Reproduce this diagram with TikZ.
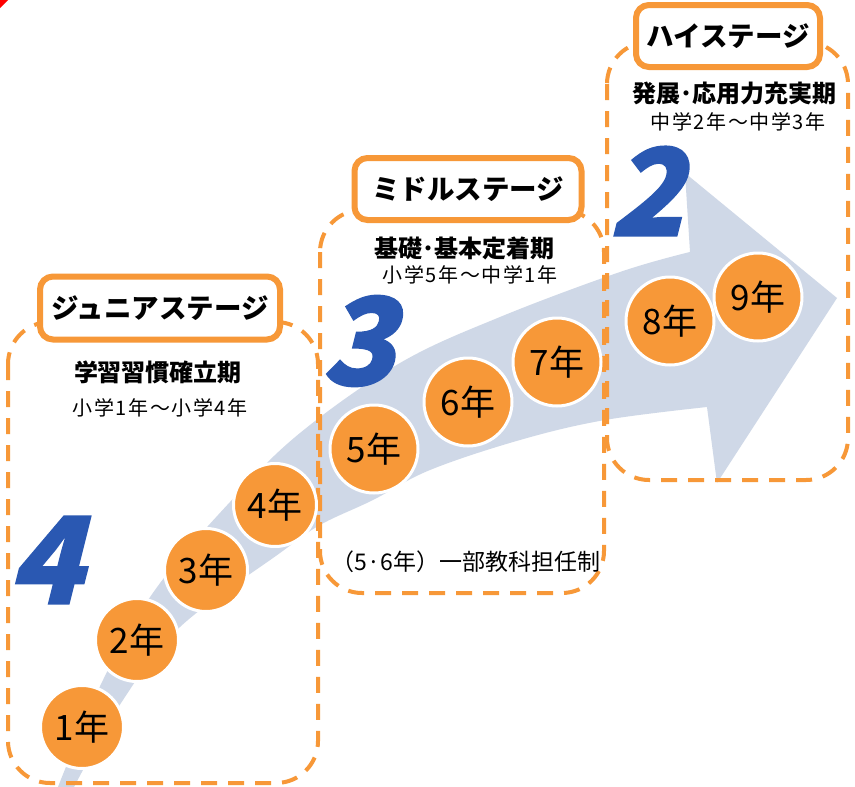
\documentclass[tikz,border=0pt]{standalone}
\usepackage{fontspec}
\setmainfont{Noto Sans CJK JP}
\newfontfamily\digitfont{Noto Sans CJK JP}[FakeSlant=0.25,FakeBold=1.3]
\definecolor{orng}{HTML}{F79838}
\definecolor{bandc}{HTML}{CFD8E7}
\definecolor{mblue}{HTML}{2A58B2}
\newcommand{\bigdigitfont}{\digitfont\bfseries\fontsize{121}{121}\selectfont}

\begin{document}
\begin{tikzpicture}[x=1pt,y=-1pt,
  dashbox/.style={draw=orng, line width=4pt, dash pattern=on 16pt off 11pt, rounded corners=42pt},
  stagebox/.style={draw=orng, fill=white, line width=6pt, rounded corners=13pt, inner sep=0pt,
    font=\bfseries\fontsize{27.5}{30}\selectfont},
  subbold/.style={inner sep=0pt, font=\bfseries\fontsize{24}{26}\selectfont},
  subreg/.style={inner sep=0pt, font=\fontsize{20}{22}\selectfont\addfontfeatures{LetterSpace=8}},
  yearc/.style={circle, fill=orng, draw=white, line width=3pt, inner sep=0pt,
    font=\fontsize{35}{35}\selectfont},
  smallc/.style={yearc, minimum size=83pt},
  bigc/.style={yearc, minimum size=88pt},
  bigdigit/.style={inner sep=0pt, text=mblue, font=\bigdigitfont}
]
\useasboundingbox (0,0) rectangle (855,787);
\fill[white] (0,0) rectangle (855,787);
\fill[red] (0,0) -- (8,0) -- (0,8) -- cycle;

% big arrow band
\fill[bandc] plot[smooth, tension=0.6] coordinates {(58,787) (103,680) (155,590) (230,502) (300,433) (400,363) (500,317) (620,272) (690,252)}
  -- (685,173) -- (837,298) -- (717,483) -- (707,407)
  -- plot[smooth, tension=0.6] coordinates {(707,407) (605,420) (520,440) (430,470) (373,500) (320,525) (280,553) (180,627) (123,700) (74,787)}
  -- cycle;

% dashed stage frames
\draw[dashbox] (8,322) rectangle (318,783);
\draw[dashbox] (320,210) rectangle (604,593);
\draw[dashbox] (607,42) rectangle (848,480);

% stage labels
\node[stagebox, minimum width=240pt, minimum height=63pt] (ljr) at (160,308) {ジュニアステージ};
\node[stagebox, minimum width=227pt, minimum height=62pt] (lmd) at (468,189) {ミドルステージ};
\node[stagebox, minimum width=184pt, minimum height=62pt] (lhi) at (728,36) {ハイステージ};

% subtitles
\node[subbold] (jt1) at (158,372) {学習習慣確立期};
\node[subreg] (jt2) at (160,408) {小学1年〜小学4年};
\node[subbold] (mt1) at (464,248) {基礎･基本定着期};
\node[subreg] (mt2) at (470,275) {小学5年〜中学1年};
\node[subbold] (ht1) at (734,93) {発展･応用力充実期};
\node[subreg] (ht2) at (738,122) {中学2年〜中学3年};
\node[inner sep=0pt, font=\fontsize{23}{25}\selectfont] (note) at (466,562) {（5·6年）一部教科担任制};

% big digits
\node[bigdigit] (dfour) at (45,560) {4};
\node[bigdigit] (dthree) at (358,341) {3};
\node[bigdigit] (dtwo) at (646,191) {2};

% year circles
\node[smallc] (y1) at (82,727) {1年};
\node[smallc] (y2) at (137,640) {2年};
\node[smallc] (y3) at (206,570) {3年};
\node[smallc] (y4) at (275,505) {4年};
\node[bigc] (y5) at (374,449) {5年};
\node[bigc] (y6) at (468,402) {6年};
\node[bigc] (y7) at (557,362) {7年};
\node[bigc] (y8) at (670,321) {8年};
\node[bigc] (y9) at (758,297) {9年};
\end{tikzpicture}
\end{document}
